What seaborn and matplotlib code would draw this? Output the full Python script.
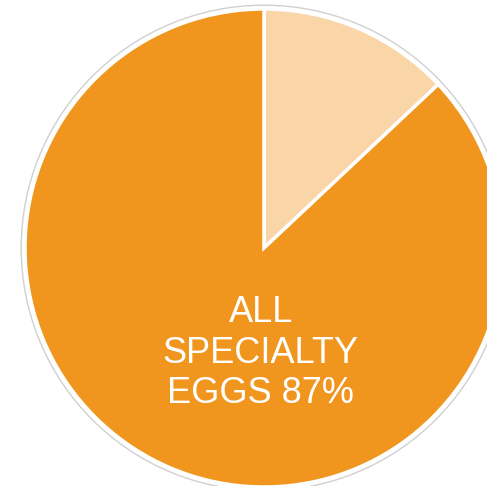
import matplotlib
matplotlib.use("Agg")
import matplotlib.pyplot as plt
import seaborn as sns
from matplotlib.patches import Circle

sns.set_style("white")
plt.rcParams['font.family'] = ['Liberation Sans', 'DejaVu Sans']

categories = ["Other", "All specialty eggs"]
values = [13, 87]
colors = ["#F9D5A7", "#F0961E"]
center_label = "ALL\nSPECIALTY\nEGGS 87%"

W, H = 487, 486
cx, cy, r = 264, 248, 239

fig = plt.figure(figsize=(W / 100, H / 100), dpi=100)
ax = fig.add_axes([0, 0, 1, 1])
ax.axis("off")

ax.add_patch(Circle((0, 0), 1.016, facecolor="none", edgecolor="#D0D0D0", lw=1.0, zorder=0))
ax.pie(values, colors=colors, startangle=90, counterclock=False, radius=1.0,
       wedgeprops=dict(edgecolor="white", linewidth=2.5))

ax.text(-0.013, -0.44, center_label, ha="center", va="center", color="white",
        fontsize=26, linespacing=1.2)

ax.set_xlim(-cx / r, (W - cx) / r)
ax.set_ylim(-(H - cy) / r, cy / r)
ax.set_aspect("auto")

fig.savefig("out.png", dpi=100, facecolor="white")
